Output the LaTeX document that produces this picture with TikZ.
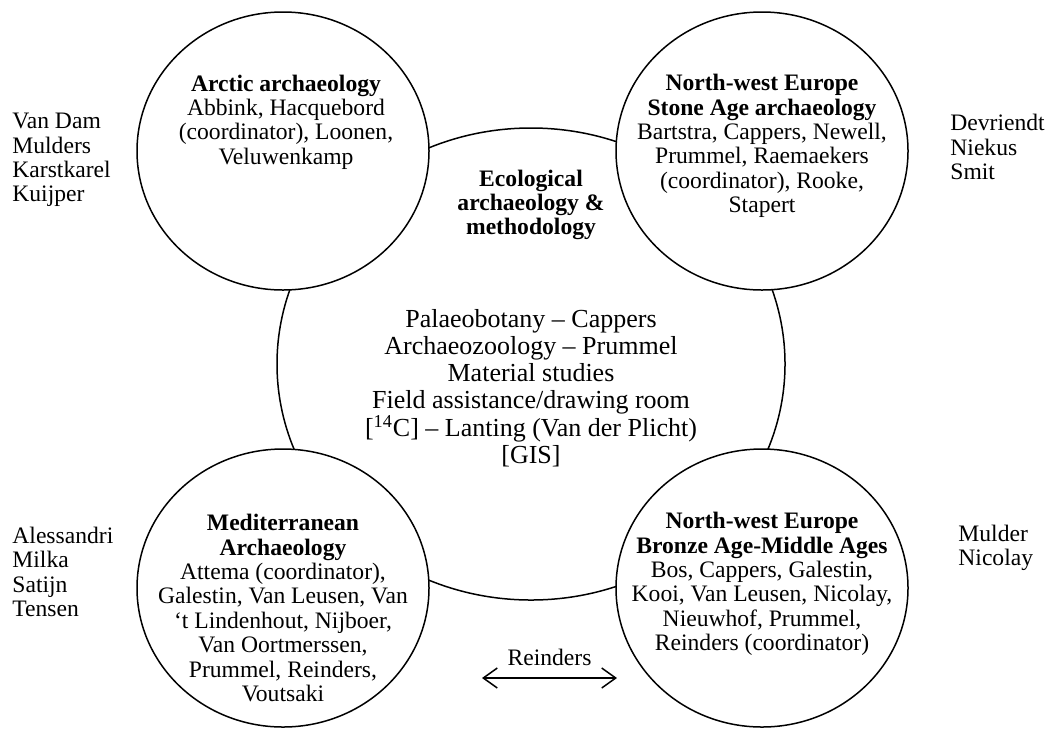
\documentclass[tikz,border=0pt]{standalone}
\usepackage{fontspec}
\setmainfont{Liberation Serif}
\usetikzlibrary{arrows.meta,shapes.geometric}

\tikzset{
  core/.style={draw,ellipse,line width=0.75pt,minimum width=254pt,minimum height=236pt,inner sep=0pt},
  group/.style={draw,ellipse,fill=white,line width=0.75pt,minimum width=146pt,minimum height=139pt,inner sep=0pt},
  txt/.style={align=center,inner sep=0pt},
  bigtxt/.style={txt,font=\fontsize{13}{13.6}\selectfont},
  names/.style={align=left,anchor=west,inner sep=0pt},
  link/.style={line width=0.75pt,{Straight Barb[length=7pt,width=10pt]}-{Straight Barb[length=7pt,width=10pt]}}
}

\begin{document}
\begin{tikzpicture}[x=0.5pt,y=-0.5pt,every node/.append style={font=\fontsize{11.8}{12.2}\selectfont}]
  \useasboundingbox (0,0) rectangle (1047,729);

  % central field and the four groups
  \node[core] (eco) at (531,364) {};
  \node[group] (arctic) at (283,151) {};
  \node[group] (stone) at (762,151) {};
  \node[group] (medit) at (283,588) {};
  \node[group] (bronze) at (762,588) {};

  \node[txt] (arctictxt) at (286,122) {\textbf{Arctic archaeology}\\Abbink, Hacquebord\\(coordinator), Loonen,\\Veluwenkamp};
  \node[txt] (stonetxt) at (762,146) {\textbf{North-west Europe}\\\textbf{Stone Age archaeology}\\Bartstra, Cappers, Newell,\\Prummel, Raemaekers\\(coordinator), Rooke,\\Stapert};
  \node[txt] (ecotitle) at (531,205) {\textbf{Ecological}\\\textbf{archaeology \&}\\\textbf{methodology}};
  \node[bigtxt] (ecolist) at (531,388) {Palaeobotany – Cappers\\Archaeozoology – Prummel\\Material studies\\Field assistance/drawing room\\{[}\textsuperscript{14}C{]} – Lanting (Van der Plicht)\\{[}GIS{]}};
  \node[txt] (medittxt) at (283,608) {\textbf{Mediterranean}\\\textbf{Archaeology}\\Attema (coordinator),\\Galestin, Van Leusen, Van\\‘t Lindenhout, Nijboer,\\Van Oortmerssen,\\Prummel, Reinders,\\Voutsaki};
  \node[txt] (bronzetxt) at (762,584) {\textbf{North-west Europe}\\\textbf{Bronze Age-Middle Ages}\\Bos, Cappers, Galestin,\\Kooi, Van Leusen, Nicolay,\\Nieuwhof, Prummel,\\Reinders (coordinator)};

  % outside members
  \node[names] (arcticout) at (12,160) {Van Dam\\Mulders\\Karstkarel\\Kuijper};
  \node[names] (stoneout) at (950,147) {Devriendt\\Niekus\\Smit};
  \node[names] (meditout) at (12,572) {Alessandri\\Milka\\Satijn\\Tensen};
  \node[names] (bronzeout) at (958,548) {Mulder\\Nicolay};

  % shared member
  \coordinate (la) at (482,678);
  \coordinate (ra) at (617,678);
  \draw[link] (la) -- node[above=6pt,inner sep=0pt] (shared) {Reinders} (ra);
\end{tikzpicture}
\end{document}
